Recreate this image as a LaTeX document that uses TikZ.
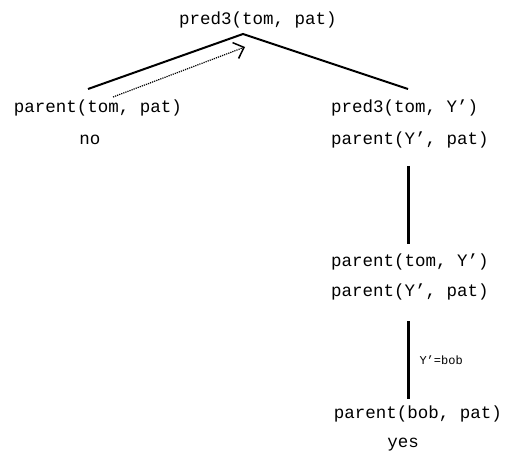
\documentclass[tikz,border=0pt]{standalone}
\usepackage{fontspec}
\setmonofont{Liberation Mono}
\usetikzlibrary{arrows.meta}
\tikzset{goal/.style={inner sep=0pt, font=\ttfamily\fontsize{17.5}{20}\selectfont},
  note/.style={inner sep=0pt, anchor=west, font=\ttfamily\fontsize{12}{14}\selectfont},
  branch/.style={line width=2pt},
  chain/.style={line width=3pt},
  back/.style={dash pattern=on 1.2pt off 1pt, line width=1.2pt, -{Straight Barb[length=9pt,width=17pt,line width=1.5pt]}}}

\begin{document}
\begin{tikzpicture}[x=1pt, y=-1pt]
\useasboundingbox (0,0) rectangle (508,457);
%\draw[help lines, step=50] (0,0) grid (508,457);
\node[goal] (root) at (258,20) {pred3(tom, pat)};%goal
\node[goal] (left) at (98,108) {parent(tom, pat)};
\node[goal] (no) at (90,140) {no};
\node[goal, anchor=west] (rgoala) at (331,108) {pred3(tom, Y’)};
\node[goal, anchor=west] (rgoalb) at (331,140) {parent(Y’, pat)};
\node[goal, anchor=west] (sgoala) at (331,262) {parent(tom, Y’)};
\node[goal, anchor=west] (sgoalb) at (331,292) {parent(Y’, pat)};
\node[goal] (last) at (418,414) {parent(bob, pat)};
\node[goal] (yes) at (403,445) {yes};

\coordinate (apex) at (243,34);
\coordinate (lend) at (88,89);
\coordinate (rend) at (408,89);
\coordinate (btail) at (113,97);
\coordinate (bhead) at (245,47);
\coordinate (atop) at (408,166);
\coordinate (abot) at (408,244);
\coordinate (ctop) at (408,321);
\coordinate (cbot) at (408,399);

\draw[branch] (lend) -- (apex) -- (rend);%branches
\draw[back] (btail) -- (bhead);%backtrack
\draw[chain] (atop) -- (abot);
\draw[chain] (ctop) -- (cbot) node[note, midway, xshift=10pt] (subst) {Y’=bob};
\end{tikzpicture}
\end{document}
